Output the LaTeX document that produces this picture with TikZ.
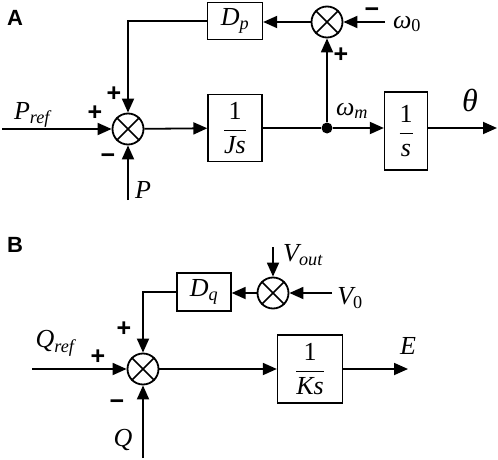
\documentclass[tikz,border=0pt]{standalone}
\usepackage{amsmath}
\usepackage{fontspec}
\setmainfont{Liberation Serif}
\newfontfamily\labsans{Liberation Sans}
\usetikzlibrary{arrows.meta}
\tikzset{
  wire/.style={line width=1.8pt},
  arr/.style={wire,-{Triangle[length=14pt,width=12pt]}},
  sumj/.style={circle,draw,line width=1.8pt,minimum size=31pt,inner sep=0pt},
  blk/.style={draw,line width=1.3pt,inner sep=0pt},
  lab/.style={font=\fontsize{26}{28}\selectfont,inner sep=0pt},
  sgn/.style={font=\labsans\bfseries\fontsize{25}{26}\selectfont,inner sep=0pt},
  panel/.style={font=\labsans\bfseries\fontsize{22}{24}\selectfont,inner sep=0pt},
}
\newcommand{\xsum}[1]{\draw[line width=1.5pt] (#1.north west) -- (#1.south east) (#1.north east) -- (#1.south west);}
\begin{document}
\begin{tikzpicture}[x=1pt,y=-1pt]
\useasboundingbox (0,0) rectangle (498,460);
% ---------- panel A
\node[panel] (lA) at (15,18) {A};
\node[sumj] (s1) at (128,129) {}; \xsum{s1}
\node[sumj] (s2) at (327,22) {}; \xsum{s2}
\node[blk,minimum width=54pt,minimum height=67pt,lab] (Js) at (235,128) {$\dfrac{\text{1}}{\textit{Js}}$};
\node[blk,minimum width=55pt,minimum height=37pt,lab] (Dp) at (235,21) {$\textit{D}_{\textit{p}}$};
\node[blk,minimum width=43pt,minimum height=78pt,lab] (sb) at (406,131) {$\dfrac{\text{1}}{\textit{s}}$};
\node[circle,fill,inner sep=0pt,minimum size=11pt] (dot) at (327,128) {};
\coordinate (pin) at (2,129);
\coordinate (pbot) at (128,200);
\coordinate (w0) at (385,22);
\coordinate (thE) at (497,128);
\draw[arr] (pin) -- (s1);
\draw[arr] (pbot) -- (s1);
\draw[arr] (s1) -- (Js);
\draw[wire] (Js.east |- dot) -- (dot);
\draw[arr] (dot) -- (dot -| sb.west);
\draw[arr] (dot) -- (s2);
\draw[arr] (w0) -- (s2);
\draw[arr] (s2) -- (s2 -| Dp.east);
\draw[arr] (Dp.west) -| (s1);
\draw[arr] (sb.east |- dot) -- (thE);
\node[lab] (lPref) at (32,115) {$\textit{P}_{\textit{ref}}$};
\node[sgn] (pl1) at (95,113) {+};
\node[sgn] (pl2) at (114,94) {+};
\node[sgn] (mi1) at (108,159) {\textminus};
\node[lab] (lP) at (143,190) {\textit{P}};
\node[sgn] (mi2) at (372,13) {\textminus};
\node[lab] (lw0) at (407,24) {$\textit{ω}_{\text{0}}$};
\node[sgn] (pl3) at (341,55) {+};
\node[lab] (lwm) at (352,111) {$\textit{ω}_{\textit{m}}$};
\node[lab,font=\fontsize{32}{34}\selectfont] (lth) at (470,100) {\textit{θ}};
% ---------- panel B
\node[panel] (lB) at (15,245) {B};
\node[sumj] (t1) at (143,369) {}; \xsum{t1}
\node[sumj] (t2) at (273,293) {}; \xsum{t2}
\node[blk,minimum width=54pt,minimum height=38pt,lab] (Dq) at (204,292) {$\textit{D}_{\textit{q}}$};
\node[blk,minimum width=65pt,minimum height=68pt,lab] (Ks) at (310,369) {$\dfrac{\text{1}}{\textit{Ks}}$};
\coordinate (qin) at (32,369);
\coordinate (qbot) at (143,458);
\coordinate (vout) at (273,247);
\coordinate (v0) at (332,293);
\coordinate (eE) at (408,369);
\draw[arr] (qin) -- (t1);
\draw[arr] (qbot) -- (t1);
\draw[arr] (t1) -- (Ks);
\draw[arr] (Ks) -- (eE);
\draw[arr] (vout) -- (t2);
\draw[arr] (v0) -- (t2);
\draw[arr] (t2) -- (t2 -| Dq.east);
\draw[arr] (Dq.west) -| (t1);
\node[lab] (lQref) at (55,343) {$\textit{Q}_{\textit{ref}}$};
\node[sgn] (pl4) at (98,357) {+};
\node[sgn] (pl5) at (124,329) {+};
\node[sgn] (mi3) at (117,405) {\textminus};
\node[lab] (lQ) at (123,440) {\textit{Q}};
\node[lab] (lVout) at (303,255) {$\textit{V}_{\textit{out}}$};
\node[lab] (lV0) at (350,298) {$\textit{V}_{\text{0}}$};
\node[lab] (lE) at (408,346) {\textit{E}};
\end{tikzpicture}
\end{document}
